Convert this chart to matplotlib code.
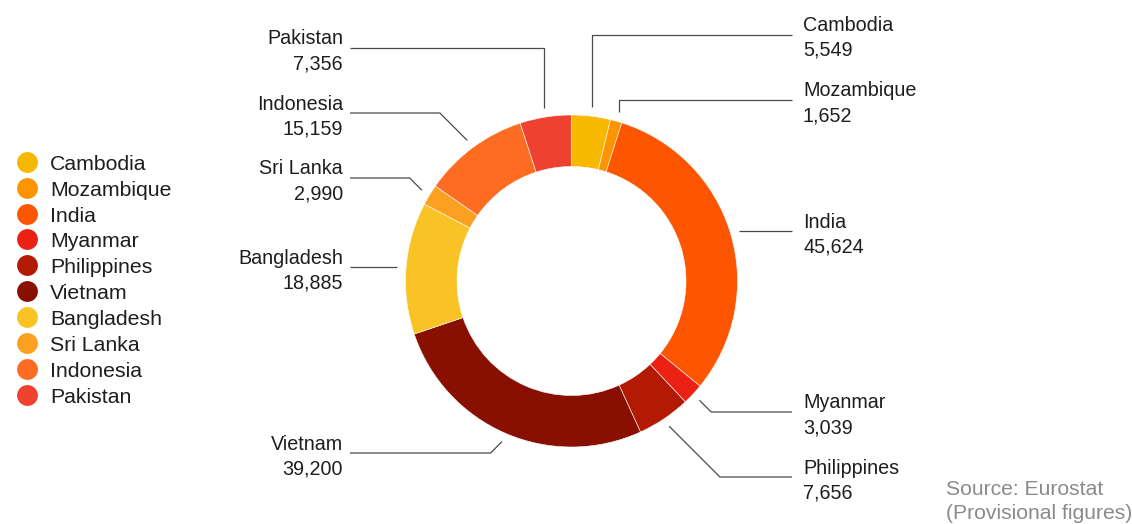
import numpy as np
import matplotlib.pyplot as plt

plt.rcParams['font.family'] = ['Liberation Sans', 'DejaVu Sans']

# EU imports by country (provisional)
names = ['Cambodia', 'Mozambique', 'India', 'Myanmar', 'Philippines',
         'Vietnam', 'Bangladesh', 'Sri Lanka', 'Indonesia', 'Pakistan']
values = [5549, 1652, 45624, 3039, 7656, 39200, 18885, 2990, 15159, 7356]
colors = ['#f6b900', '#fe9400', '#fe5500', '#eb2213', '#b31a03',
          '#891000', '#f9c325', '#fca022', '#fe6c22', '#ef412f']

W, H = 1132, 524

def py(y):
    # pixel row (from top) -> data y
    return H - y

fig = plt.figure(figsize=(W / 100, H / 100), dpi=100)
ax = fig.add_axes([0, 0, 1, 1])

cx, cy = 571.5, py(281)
r_out, r_in = 166, 114.5
wedges, _ = ax.pie(values, colors=colors, startangle=90, counterclock=False,
                   radius=r_out, center=(cx, cy),
                   wedgeprops=dict(width=r_out - r_in, edgecolor='white', linewidth=0.4))

ax.set_xlim(0, W)
ax.set_ylim(0, H)
ax.set_aspect('equal')
ax.axis('off')

# label placement: side, row of the horizontal leader (None = level with anchor), vertical elbow
layout = {
    'Cambodia':    ('right', 34.5, True),
    'Mozambique':  ('right', 100, True),
    'India':       ('right', None, False),
    'Myanmar':     ('right', 412, False),
    'Philippines': ('right', 477, False),
    'Vietnam':     ('left', 453, False),
    'Bangladesh':  ('left', None, False),
    'Sri Lanka':   ('left', 178, False),
    'Indonesia':   ('left', 113, False),
    'Pakistan':    ('left', 47.5, True),
}

line_col = '#4a4a4a'
txt_col = '#1e1e1e'
r_anchor = 175
for w, name, val in zip(wedges, names, values):
    side, row, vert = layout[name]
    mid = np.deg2rad((w.theta1 + w.theta2) / 2)
    ax_, ay_ = cx + r_anchor * np.cos(mid), cy + r_anchor * np.sin(mid)
    ly = ay_ if row is None else py(row)
    if vert:
        ex = ax_
    else:
        d = abs(ly - ay_)
        ex = ax_ + d if side == 'right' else ax_ - d
    end_x = 792 if side == 'right' else 350
    ax.plot([ax_, ex, end_x], [ay_, ly, ly], color=line_col, lw=0.9,
            solid_capstyle='butt')
    tx = 803 if side == 'right' else 343
    ha = 'left' if side == 'right' else 'right'
    ax.text(tx, ly + 3.5, name, ha=ha, va='baseline', fontsize=14.2, color=txt_col)
    ax.text(tx, ly - 21.5, f'{val:,}', ha=ha, va='baseline', fontsize=14.2, color=txt_col)

# legend
for i, (name, c) in enumerate(zip(names, colors)):
    y = py(161.7 + i * 25.9)
    ax.scatter([26.7], [y], s=225, color=c, linewidths=0)
    ax.text(50, y - 8, name, ha='left', va='baseline', fontsize=15.3, color=txt_col)

ax.text(946, py(495), 'Source: Eurostat', ha='left', va='baseline',
        fontsize=15.2, color='#8a8a8a')
ax.text(946, py(519), '(Provisional figures)', ha='left', va='baseline',
        fontsize=15.2, color='#8a8a8a')

fig.savefig('out.png', dpi=100, facecolor='white')
